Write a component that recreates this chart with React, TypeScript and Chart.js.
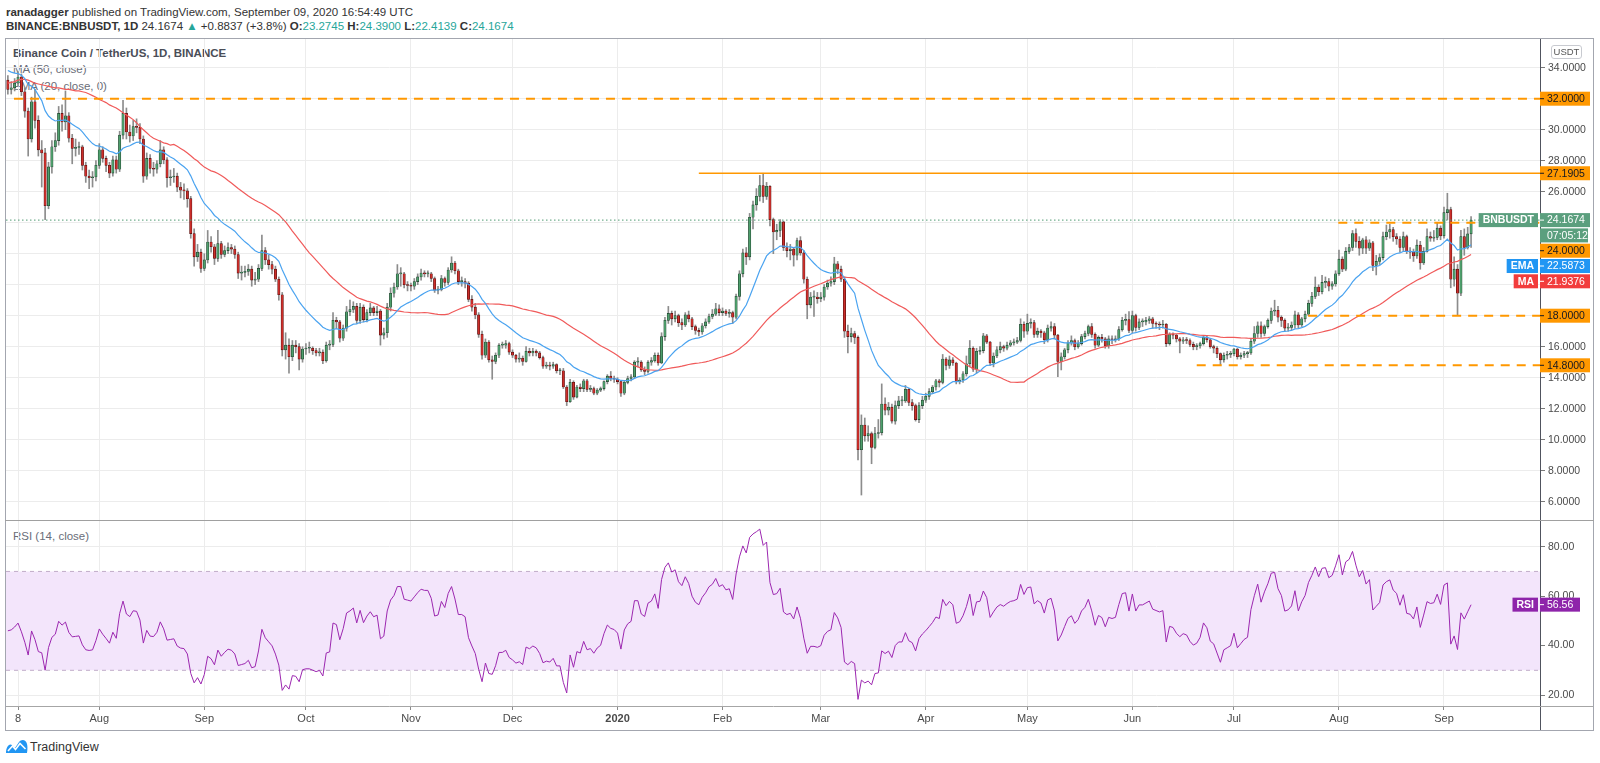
import React, { useEffect, useRef } from "react";
import { Chart, registerables } from "chart.js";
Chart.register(...registerables);

const FONT = "'Liberation Sans', Arial, sans-serif";

// ---------- DATA (daily candles, 2019-07-05 .. 2020-09-09) ----------
const firstOpen = 33.2;
const closes = [
  32.6,32.7,33.0,33.4,32.45,31.2,29.4,31.8,30.6,28.7,
  28.5,25.1,27.6,28.9,29.3,31.05,30.5,30.9,29.45,28.8,
  28.85,28.9,27.7,27.0,26.9,26.95,27.7,28.7,28.15,27.7,
  27.2,28.05,27.45,29.65,31.05,29.85,29.6,30.2,30.15,29.4,
  27.0,28.15,27.5,27.45,27.8,28.7,28.05,26.9,26.95,27.0,
  26.3,26.1,26.05,25.55,23.3,21.8,22.1,21.05,21.6,22.75,
  22.45,21.7,22.65,21.95,22.2,22.4,22.3,21.95,20.75,20.8,
  20.85,21.0,20.3,20.35,21.05,22.2,21.6,21.3,21.0,20.35,
  19.35,15.8,16.1,15.35,16.1,16.0,15.2,15.85,15.9,15.9,
  15.75,15.6,15.65,15.1,16.1,16.15,17.7,17.6,16.55,17.2,
  18.25,18.4,18.6,17.7,18.55,17.75,18.2,18.5,18.2,18.3,
  16.75,16.9,18.55,19.45,19.85,20.7,20.7,20.0,19.95,19.9,
  20.2,20.5,20.75,20.7,20.7,20.4,19.65,19.7,20.4,20.15,
  20.95,21.4,20.9,20.2,20.2,20.1,19.05,18.55,18.05,16.8,
  15.45,16.3,15.15,15.05,15.45,16.1,16.1,16.2,15.65,15.45,
  15.2,15.25,15.05,15.7,15.6,15.7,15.6,15.3,14.75,14.8,
  14.75,14.85,14.45,14.45,13.4,12.45,13.7,12.75,13.4,13.3,
  13.8,13.25,13.3,13.0,13.2,13.3,13.75,14.1,13.95,13.9,
  13.75,13.0,13.7,13.95,14.05,15.0,15.0,14.5,14.4,15.0,
  15.1,15.45,14.95,16.65,17.7,18.15,17.8,18.0,17.55,17.4,
  18.05,17.8,17.3,17.05,16.95,17.35,17.6,17.95,18.1,18.45,
  18.2,18.3,18.15,18.2,17.9,19.25,20.7,22.05,21.8,24.35,
  25.15,25.7,26.4,25.7,26.35,24.2,23.4,23.5,24.05,22.4,
  22.2,22.3,21.9,22.85,22.05,20.35,18.7,19.2,19.2,19.1,
  19.2,19.85,20.1,20.2,21.35,21.0,20.35,17.0,16.65,16.85,
  16.6,9.35,10.95,10.25,10.4,9.5,10.4,10.45,12.3,11.9,
  12.1,11.2,12.2,12.5,12.5,13.25,12.4,12.2,11.3,12.2,
  12.55,12.8,13.1,13.4,13.8,13.7,15.2,14.8,15.15,14.95,
  13.75,13.85,14.25,14.9,15.9,14.55,15.7,15.75,16.7,16.3,
  14.95,15.4,15.8,16.0,15.9,16.1,16.25,16.3,16.4,17.45,
  17.0,17.5,17.55,16.8,17.0,16.9,16.45,17.2,17.3,16.75,
  15.05,15.35,15.8,16.25,16.4,16.0,16.2,16.65,16.85,17.3,
  16.8,16.1,16.6,16.5,16.05,16.5,16.45,16.5,17.1,17.7,
  17.75,17.05,18.0,17.25,17.6,17.6,17.7,17.8,17.5,17.45,
  17.4,17.45,16.2,16.8,16.75,16.5,16.35,16.45,16.4,16.15,
  16.0,16.05,16.2,16.6,16.45,16.0,15.9,15.55,15.15,15.45,
  15.5,15.55,15.85,15.35,15.45,15.55,15.6,16.35,16.85,17.35,
  16.85,17.3,17.7,18.3,18.35,17.9,17.7,17.2,17.25,17.4,
  18.05,17.4,17.8,18.1,18.8,19.25,19.85,19.55,20.15,20.2,
  19.9,20.05,20.7,21.65,21.0,22.15,22.4,23.3,22.8,22.35,
  22.9,22.35,22.7,21.25,21.5,21.75,23.1,23.4,23.55,23.1,
  22.95,22.4,23.1,22.15,22.1,21.85,22.55,21.4,22.15,23.1,
  23.0,23.05,23.65,23.15,24.65,24.85,20.35,21.0,19.45,23.1,
  22.4,23.28,24.1674,
];
const highs = [
  33.5,33.1,33.3,33.75,33.6,32.7,31.4,32.1,32.6,30.9,
  29.3,28.8,27.9,29.3,29.8,31.5,31.6,32.5,31.1,29.7,
  29.4,29.2,29.0,27.9,27.4,27.3,28.0,29.1,28.9,28.3,
  27.9,28.3,28.3,29.9,31.9,31.4,30.3,30.6,30.7,30.4,
  29.6,28.5,28.4,27.9,28.0,29.3,28.9,28.2,27.4,27.5,
  27.2,26.6,26.5,26.2,25.7,23.6,22.6,22.3,22.0,23.5,
  23.1,22.6,23.5,22.8,22.5,22.7,22.6,22.5,22.1,21.2,
  21.2,21.3,21.2,20.8,21.3,23.2,22.4,21.9,21.5,21.2,
  20.5,19.5,16.9,16.5,16.4,16.4,16.2,16.0,16.2,16.3,
  16.0,15.9,15.9,15.8,16.3,16.4,18.2,17.9,17.7,17.4,
  18.6,19.0,18.9,18.8,18.8,18.7,18.4,18.8,18.6,18.6,
  18.4,17.2,18.8,19.8,20.1,21.3,21.1,20.8,20.2,20.1,
  20.4,20.7,21.0,20.9,20.9,20.8,20.5,19.9,20.6,20.5,
  21.1,21.8,21.5,21.0,20.5,20.4,20.2,19.3,18.8,18.2,
  17.0,16.5,16.4,15.4,15.6,16.2,16.3,16.4,16.3,15.8,
  15.5,15.6,15.4,16.0,15.9,15.9,15.8,15.7,15.4,15.0,
  15.0,15.0,14.9,14.6,14.6,13.5,13.9,13.8,13.5,13.6,
  13.9,13.9,13.5,13.4,13.3,13.4,13.8,14.2,14.4,14.1,
  14.0,13.8,13.8,14.1,14.2,15.1,15.3,15.1,14.7,15.1,
  15.3,15.6,15.6,16.9,17.9,18.6,18.3,18.3,18.1,17.8,
  18.2,18.3,17.9,17.4,17.2,17.5,17.8,18.1,18.4,18.8,
  18.7,18.5,18.4,18.4,18.3,19.4,20.9,22.3,22.4,24.6,
  25.4,26.2,27.05,27.19,26.6,26.4,24.3,23.9,24.2,24.1,
  22.7,22.6,22.4,23.0,23.1,22.2,20.5,19.5,19.6,19.5,
  19.5,20.0,20.3,20.5,21.77,21.5,21.2,20.5,17.4,17.2,
  17.0,16.7,11.6,11.4,10.9,10.5,10.8,11.3,13.6,12.7,
  12.4,12.3,12.5,12.8,12.8,13.5,13.3,12.6,12.3,12.4,
  12.8,13.0,13.3,13.5,13.9,13.9,15.5,15.3,15.4,15.3,
  15.0,14.0,14.4,15.4,16.4,16.0,15.9,16.0,16.86,16.8,
  16.35,15.6,16.0,16.3,16.1,16.3,16.4,16.5,16.6,17.8,
  17.6,18.1,17.8,17.7,17.2,17.1,17.0,17.4,17.6,17.5,
  16.8,15.6,15.9,16.4,16.7,16.5,16.4,16.8,17.0,17.4,
  17.5,16.9,16.7,16.8,16.6,16.7,16.7,16.7,17.3,17.9,
  18.1,18.26,18.3,18.1,17.8,17.8,17.9,17.95,17.9,17.6,
  17.6,17.7,17.5,16.9,16.9,16.8,16.6,16.6,16.6,16.5,
  16.3,16.2,16.3,16.7,16.7,16.5,16.1,16.0,15.6,15.6,
  15.7,15.7,15.9,15.9,15.6,15.7,15.7,16.5,17.3,17.6,
  17.6,17.4,17.8,18.5,19.0,18.6,18.0,17.8,17.5,17.6,
  18.3,18.2,17.9,18.3,19.0,19.5,20.5,20.0,20.6,20.5,
  20.4,20.2,20.9,22.24,21.8,22.4,22.6,23.5,23.6,23.1,
  23.0,23.1,22.9,22.8,21.9,22.0,23.4,23.85,23.9,23.7,
  23.3,23.1,23.4,23.2,22.4,22.3,22.9,22.8,22.4,23.6,
  23.4,23.5,24.0,23.8,25.0,25.9,25.0,21.8,21.3,23.5,
  23.6,23.7,24.39,
];
const lows = [
  32.3,32.3,32.5,32.8,32.2,30.8,28.3,29.2,30.1,28.3,
  26.3,24.2,24.9,27.2,28.6,29.0,29.9,30.0,29.2,27.8,
  28.3,28.4,27.4,26.6,26.2,26.3,26.7,27.5,27.9,27.3,
  26.9,27.0,27.2,27.3,29.4,29.4,29.2,29.3,29.8,29.1,
  26.6,26.8,27.2,27.0,27.2,27.6,27.8,26.3,26.4,26.6,
  26.0,25.6,25.5,25.0,23.0,21.2,21.5,20.8,20.9,21.4,
  22.1,21.3,21.5,21.7,21.8,22.0,22.0,21.7,20.4,20.3,
  20.5,20.6,19.9,20.0,20.2,20.9,21.3,21.0,20.7,20.2,
  19.0,15.4,15.2,14.3,15.1,15.6,14.5,15.0,15.5,15.6,
  15.5,15.4,15.4,14.9,15.0,15.8,16.0,17.2,16.3,16.4,
  17.0,18.0,18.2,17.5,17.5,17.6,17.6,18.0,18.0,18.0,
  16.1,16.5,16.6,18.3,19.2,19.7,19.9,19.8,19.6,19.6,
  19.7,20.0,20.3,20.5,20.5,20.2,19.5,19.4,19.6,19.9,
  20.0,20.8,20.7,20.0,19.9,19.8,18.9,18.3,17.8,16.6,
  15.2,15.3,15.0,13.9,14.9,15.3,15.9,15.9,15.5,15.3,
  15.0,15.0,14.8,15.0,15.4,15.4,15.4,15.2,14.6,14.6,
  14.5,14.6,14.3,14.2,13.3,12.2,12.4,12.6,12.7,13.1,
  13.1,13.1,13.1,12.9,12.9,13.1,13.2,13.6,13.8,13.7,
  13.6,12.8,12.9,13.6,13.8,14.0,14.7,14.4,14.2,14.3,
  14.8,15.0,14.8,14.9,16.4,17.5,17.4,17.6,17.3,17.1,
  17.3,17.6,17.1,16.8,16.7,16.8,17.2,17.5,17.8,18.0,
  18.0,18.0,18.0,17.9,17.5,17.8,19.0,20.5,21.3,21.6,
  23.6,24.8,25.4,25.3,25.5,23.8,22.0,22.9,23.1,22.2,
  21.8,21.6,21.2,21.6,21.9,20.1,17.8,18.5,17.95,18.8,
  18.9,19.0,19.7,19.9,20.0,20.7,20.2,16.6,15.6,16.3,
  16.2,8.7,6.43,9.9,9.9,8.45,9.4,10.1,10.3,11.6,
  11.6,11.06,11.0,12.0,12.2,12.4,12.2,11.9,11.2,11.1,
  12.0,12.4,12.6,13.0,13.2,13.4,13.6,14.5,14.6,14.8,
  13.6,13.6,13.7,14.1,14.7,14.4,14.3,15.5,15.6,16.2,
  14.8,14.7,15.3,15.6,15.7,15.8,16.0,16.1,16.2,16.3,
  16.6,16.8,17.2,16.6,16.6,16.6,16.2,16.3,17.0,16.5,
  14.07,14.5,15.2,15.6,16.1,15.8,15.9,16.1,16.5,16.7,
  16.6,15.9,16.0,16.3,15.9,15.9,16.2,16.3,16.4,17.0,
  17.4,16.9,16.9,17.0,17.1,17.3,17.4,17.5,17.2,17.2,
  17.1,17.2,16.0,16.1,16.5,16.3,15.6,16.2,16.2,16.0,
  15.8,15.8,15.9,16.1,16.3,15.9,15.6,15.3,14.82,15.0,
  15.2,15.3,15.4,15.2,15.2,15.3,15.3,15.5,16.2,16.6,
  16.6,16.7,17.2,17.5,18.0,17.6,17.3,17.0,17.0,17.1,
  17.2,17.2,17.3,17.6,18.0,18.6,19.1,19.3,19.4,19.8,
  19.6,19.7,19.9,20.6,20.84,20.9,22.0,22.2,22.4,21.9,
  22.0,22.0,22.2,20.9,20.63,21.3,21.6,22.9,23.0,22.8,
  22.6,22.1,22.2,22.0,21.7,21.5,21.7,21.0,21.3,22.1,
  22.8,22.8,22.9,22.9,23.0,24.2,19.8,19.9,18.0,19.3,
  21.9,22.3,22.41,
];
// MA(50) values for the days before 50 closes are available
const ma50Lead = [
  33.0,33.05,33.1,33.2,33.25,33.25,33.2,33.1,33.0,32.95,
  32.9,32.85,32.8,32.75,32.7,32.7,32.65,32.6,32.6,32.55,
  32.5,32.5,32.45,32.4,32.3,32.2,32.1,31.95,31.85,31.75,
  31.6,31.5,31.4,31.25,31.1,30.95,30.8,30.65,30.45,30.2,
  30.0,29.8,29.6,29.45,29.35,29.25,29.15,29.1,29.0,
];
const emaSeed = 33.95;
const rsiSeedGain = 0.55;
const rsiSeedLoss = 0.6;

const monthTicks = [3, 27, 58, 88, 119, 149, 180, 211, 240, 271, 301, 332, 362, 393, 424];
const monthLabels = ["8", "Aug", "Sep", "Oct", "Nov", "Dec", "2020", "Feb", "Mar", "Apr", "May", "Jun", "Jul", "Aug", "Sep"];
const priceTicks = [6, 8, 10, 12, 14, 16, 18, 20, 22, 24, 26, 28, 30, 32, 34];
const rsiTicks = [20, 40, 60, 80];

const levelPrices = [32, 27.1905, 24, 18, 14.8];
const levelStartIdx = [1.8, 204, 392.8, 383.9, 351];
const levelDashed = [true, false, true, true, true];

const lastEmaLabel = 22.5873;
const lastMaLabel = 21.9376;
const lastRsiLabel = 56.56;
const countdown = "07:05:12";

// ---------- derived ----------
const opens = closes.map((c, i) => (i === 0 ? firstOpen : closes[i - 1]));
const ema20: number[] = [];
{
  let e = emaSeed;
  const k = 2 / 21;
  closes.forEach((c) => {
    e = e + (c - e) * k;
    ema20.push(e);
  });
}
const ma50 = closes.map((_, i) => {
  if (i < 49) return ma50Lead[i];
  let s = 0;
  for (let j = i - 49; j <= i; j++) s += closes[j];
  return s / 50;
});
const rsi14: number[] = [];
{
  let ag = rsiSeedGain, al = rsiSeedLoss;
  closes.forEach((c, i) => {
    const d = c - opens[i];
    ag = (ag * 13 + Math.max(d, 0)) / 14;
    al = (al * 13 + Math.max(-d, 0)) / 14;
    rsi14.push(100 - 100 / (1 + ag / al));
  });
}
const lastClose = closes[closes.length - 1];

// ---------- layout constants ----------
const X_MIN = -0.55;
const X_MAX = 452.35;
const GRID = "#ececec";
const ORANGE = "#ff9800";
const UP = "#4e9f6c";
const UP_B = "#1f3f2c";
const DOWN = "#cc2e2a";
const DOWN_B = "#4f0f0f";

type AxisLabel = { value: number; text: string; bg: string; fg: string; tag?: string; sub?: string; w?: number };

function makeLabelPlugin(labels: AxisLabel[]) {
  return {
    id: "axisLabels",
    afterDraw(chart: any) {
      const ctx = chart.ctx;
      const sc = chart.scales.y;
      const x0 = chart.chartArea.right;
      const h = 14;
      const gap = 1.3;
      const items = labels
        .map((l) => ({ ...l, y: sc.getPixelForValue(l.value) }))
        .sort((a, b) => a.y - b.y);
      let prevBottom = -1e9;
      ctx.save();
      ctx.font = `10.5px ${FONT}`;
      ctx.textBaseline = "middle";
      for (const it of items) {
        const w = it.w || 50;
        const top = Math.max(it.y - h / 2, prevBottom + gap);
        ctx.fillStyle = it.bg;
        ctx.fillRect(x0, top, w, h);
        ctx.strokeStyle = it.fg;
        ctx.lineWidth = 1;
        ctx.beginPath();
        ctx.moveTo(x0, top + h / 2);
        ctx.lineTo(x0 + 4, top + h / 2);
        ctx.stroke();
        ctx.fillStyle = it.fg;
        ctx.textAlign = "left";
        ctx.fillText(it.text, x0 + 7, top + h / 2 + 0.5);
        if (it.tag) {
          ctx.font = `bold 10.5px ${FONT}`;
          const tw = ctx.measureText(it.tag).width + 8;
          ctx.fillStyle = it.bg;
          ctx.fillRect(x0 - 2 - tw, top, tw, h);
          ctx.fillStyle = it.fg;
          ctx.textAlign = "center";
          ctx.fillText(it.tag, x0 - 2 - tw / 2, top + h / 2 + 0.5);
          ctx.font = `10.5px ${FONT}`;
        }
        let bottom = top + h;
        if (it.sub) {
          const t2 = top + h + gap;
          ctx.fillStyle = it.bg;
          ctx.fillRect(x0, t2, w - 2, h);
          ctx.fillStyle = it.fg;
          ctx.textAlign = "left";
          ctx.fillText(it.sub, x0 + 7, t2 + h / 2 + 0.5);
          bottom = t2 + h;
        }
        prevBottom = bottom;
      }
      ctx.restore();
    },
  };
}

const baseX = (showLabels: boolean) => ({
  type: "linear",
  min: X_MIN,
  max: X_MAX,
  offset: false,
  afterBuildTicks: (s: any) => {
    s.ticks = monthTicks.map((v) => ({ value: v }));
  },
  grid: { color: GRID, offset: false, drawTicks: showLabels, tickLength: 4, tickColor: "#8a8a8a" },
  border: { display: showLabels, color: "#a6a6a6" },
  ticks: showLabels
    ? {
        autoSkip: false,
        maxRotation: 0,
        padding: 2,
        color: "#4a4a4a",
        font: (c: any) => ({ family: FONT, size: 11, weight: c.index === 6 ? "bold" : "normal" }),
        callback: (_v: any, idx: number) => monthLabels[idx],
      }
    : { display: false },
  afterFit: (s: any) => {
    s.height = showLabels ? 24 : 0;
    s.paddingLeft = 0;
    s.paddingRight = 0;
  },
});

const baseY = (min: number, max: number, ticks: number[], digits: number) => ({
  position: "right",
  min,
  max,
  afterBuildTicks: (s: any) => {
    s.ticks = ticks.map((v) => ({ value: v }));
  },
  ticks: {
    color: "#4a4a4a",
    padding: 3,
    font: { family: FONT, size: 10.5 },
    callback: (v: any) => Number(v).toFixed(digits),
  },
  grid: { color: GRID, tickColor: "#7a7a7a", tickLength: 5 },
  border: { color: "#50535e" },
  afterFit: (s: any) => {
    s.width = 53;
    s.paddingTop = 0;
    s.paddingBottom = 0;
  },
});

function PriceChart() {
  const ref = useRef<HTMLCanvasElement | null>(null);
  useEffect(() => {
    if (!ref.current) return;
    const levelSets = levelPrices.map((p, k) => ({
      type: "line",
      data: [
        { x: levelStartIdx[k], y: p },
        { x: X_MAX, y: p },
      ],
      borderColor: ORANGE,
      borderWidth: levelDashed[k] ? 2 : 1.6,
      borderDash: levelDashed[k] ? [9, 7] : [],
      pointRadius: 0,
      order: 2,
    }));
    const chart = new Chart(ref.current, {
      type: "bar",
      data: {
        datasets: [
          {
            type: "line",
            data: [
              { x: X_MIN, y: lastClose },
              { x: X_MAX, y: lastClose },
            ],
            borderColor: "#4f9a73",
            borderWidth: 1,
            borderDash: [1.5, 2.5],
            pointRadius: 0,
            order: 1,
          },
          ...levelSets,
          {
            type: "line",
            data: ema20.map((v, i) => ({ x: i, y: v })),
            borderColor: "#4aa3f0",
            borderWidth: 1.2,
            pointRadius: 0,
            order: 3,
          },
          {
            type: "line",
            data: ma50.map((v, i) => ({ x: i, y: v })),
            borderColor: "#f05a5a",
            borderWidth: 1.2,
            pointRadius: 0,
            order: 3,
          },
          {
            type: "bar",
            data: closes.map((c, i) => ({ x: i, y: [opens[i], c] })),
            backgroundColor: closes.map((c, i) => (c >= opens[i] ? UP : DOWN)),
            borderColor: closes.map((c, i) => (c >= opens[i] ? UP_B : DOWN_B)),
            borderWidth: 0.6,
            borderSkipped: false,
            barThickness: 2.4,
            minBarLength: 1,
            grouped: false,
            order: 5,
          },
          {
            type: "bar",
            data: closes.map((_, i) => ({ x: i, y: [lows[i], highs[i]] })),
            backgroundColor: "#8c8c8c",
            barThickness: 1,
            grouped: false,
            order: 6,
          },
        ] as any,
      },
      options: {
        animation: false,
        responsive: false,
        maintainAspectRatio: false,
        events: [],
        layout: { padding: 0 },
        plugins: { legend: { display: false }, tooltip: { enabled: false } },
        scales: {
          x: baseX(false) as any,
          y: baseY(4.819, 35.852, priceTicks, 4) as any,
        },
      },
      plugins: [
        makeLabelPlugin([
          { value: 32, text: "32.0000", bg: ORANGE, fg: "#131722" },
          { value: 27.1905, text: "27.1905", bg: ORANGE, fg: "#131722" },
          { value: lastClose, text: lastClose.toFixed(4), bg: "#5b9f7e", fg: "#ffffff", tag: "BNBUSDT", sub: countdown },
          { value: 24, text: "24.0000", bg: ORANGE, fg: "#131722" },
          { value: lastEmaLabel, text: lastEmaLabel.toFixed(4), bg: "#2196f3", fg: "#ffffff", tag: "EMA" },
          { value: lastMaLabel, text: lastMaLabel.toFixed(4), bg: "#f23c3c", fg: "#ffffff", tag: "MA" },
          { value: 18, text: "18.0000", bg: ORANGE, fg: "#131722" },
          { value: 14.8, text: "14.8000", bg: ORANGE, fg: "#131722" },
        ]) as any,
      ],
    });
    return () => chart.destroy();
  }, []);
  return (
    <canvas
      ref={ref}
      width={1587}
      height={481}
      style={{ position: "absolute", left: 6, top: 39, width: 1587, height: 481 }}
    />
  );
}

function RsiChart() {
  const ref = useRef<HTMLCanvasElement | null>(null);
  useEffect(() => {
    if (!ref.current) return;
    const chart = new Chart(ref.current, {
      type: "line",
      data: {
        datasets: [
          {
            data: rsi14.map((v, i) => ({ x: i, y: v })),
            borderColor: "#9c27b0",
            borderWidth: 1,
            pointRadius: 0,
            order: 1,
          },
          {
            data: [
              { x: X_MIN, y: 70 },
              { x: X_MAX, y: 70 },
            ],
            borderColor: "#c1adc9",
            borderWidth: 1,
            borderDash: [4, 4],
            pointRadius: 0,
            fill: { value: 30 },
            backgroundColor: "#f3e5fb",
            order: 3,
          },
          {
            data: [
              { x: X_MIN, y: 30 },
              { x: X_MAX, y: 30 },
            ],
            borderColor: "#c1adc9",
            borderWidth: 1,
            borderDash: [4, 4],
            pointRadius: 0,
            order: 2,
          },
        ] as any,
      },
      options: {
        animation: false,
        responsive: false,
        maintainAspectRatio: false,
        events: [],
        layout: { padding: 0 },
        plugins: { legend: { display: false }, tooltip: { enabled: false } },
        scales: {
          x: baseX(true) as any,
          y: baseY(15.56, 90.4, rsiTicks, 2) as any,
        },
      },
      plugins: [
        makeLabelPlugin([
          { value: lastRsiLabel, text: lastRsiLabel.toFixed(2), bg: "#8e24aa", fg: "#ffffff", tag: "RSI", w: 40 },
        ]) as any,
      ],
    });
    return () => chart.destroy();
  }, []);
  return (
    <canvas
      ref={ref}
      width={1587}
      height={209}
      style={{ position: "absolute", left: 6, top: 521, width: 1587, height: 209 }}
    />
  );
}

const green = "#26a69a";

export default function App() {
  const txt: React.CSSProperties = { position: "absolute", whiteSpace: "nowrap", fontFamily: FONT };
  return (
    <div
      style={{
        position: "absolute",
        left: 0,
        top: 0,
        width: 1600,
        height: 763,
        background: "#ffffff",
        overflow: "hidden",
        fontFamily: FONT,
        color: "#333",
      }}
    >
      <div style={{ ...txt, left: 6, top: 4, fontSize: 11.5, lineHeight: "16px", color: "#333" }}>
        <b>ranadagger</b> published on TradingView.com, September 09, 2020 16:54:49 UTC
      </div>
      <div style={{ ...txt, left: 6, top: 18, fontSize: 11.5, lineHeight: "16px", color: "#333" }}>
        <b>BINANCE:BNBUSDT, 1D</b> 24.1674 <span style={{ color: green }}>▲</span> +0.8837 (+3.8%){" "}
        <b>O:</b><span style={{ color: green }}>23.2745</span> <b>H:</b>
        <span style={{ color: green }}>24.3900</span> <b>L:</b>
        <span style={{ color: green }}>22.4139</span> <b>C:</b>
        <span style={{ color: green }}>24.1674</span>
      </div>

      {/* frame */}
      <div
        style={{
          position: "absolute",
          left: 5,
          top: 38,
          width: 1589,
          height: 693,
          border: "1px solid #a3a6af",
          boxSizing: "border-box",
        }}
      />

      {/* legends (under the canvas like in the reference) */}
      <div style={{ ...txt, left: 13, top: 46, fontSize: 11.5, lineHeight: "15px", color: "#4a4d57", fontWeight: "bold" }}>
        Binance Coin / TetherUS, 1D, BINANCE
      </div>
      <div style={{ ...txt, left: 13, top: 62, fontSize: 11.5, lineHeight: "15px", color: "#6a6d78" }}>MA (50, close)</div>
      <div style={{ ...txt, left: 13, top: 79, fontSize: 11.5, lineHeight: "15px", color: "#6a6d78" }}>EMA (20, close, 0)</div>
      <div style={{ ...txt, left: 13, top: 529, fontSize: 11.5, lineHeight: "15px", color: "#6a6d78" }}>RSI (14, close)</div>

      <PriceChart />
      <div style={{ position: "absolute", left: 5, top: 519.5, width: 1589, height: 1.5, background: "#a0a0a0" }} />
      <RsiChart />

      {/* axis divider in time-axis row */}
      <div style={{ position: "absolute", left: 1539.5, top: 706, width: 1, height: 24, background: "#50535e" }} />
      <div style={{ position: "absolute", left: 1540, top: 706, width: 53, height: 1, background: "#a6a6a6" }} />

      {/* currency box */}
      <div
        style={{
          position: "absolute",
          left: 1551,
          top: 45,
          width: 31,
          height: 14,
          border: "1px solid #c8cad0",
          borderRadius: 3,
          boxSizing: "border-box",
          fontSize: 9.5,
          lineHeight: "12px",
          textAlign: "center",
          color: "#555",
          background: "#fff",
        }}
      >
        USDT
      </div>

      {/* logo */}
      <svg style={{ position: "absolute", left: 6, top: 739 }} width="22" height="15" viewBox="0 0 22 15">
        <path d="M0 14 C0 8 3 4 6 6 L9 9 L13 3 C15 0 20 0 21 5 C22 9 21 14 21 14 Z" fill="#2196f3" />
        <path d="M2 12 L6.5 7 L9.5 10.5 L14 4.5 L19.5 10" stroke="#ffffff" strokeWidth="1.6" fill="none" />
      </svg>
      <div style={{ ...txt, left: 30, top: 739, fontSize: 12.5, lineHeight: "16px", color: "#333" }}>TradingView</div>
    </div>
  );
}
